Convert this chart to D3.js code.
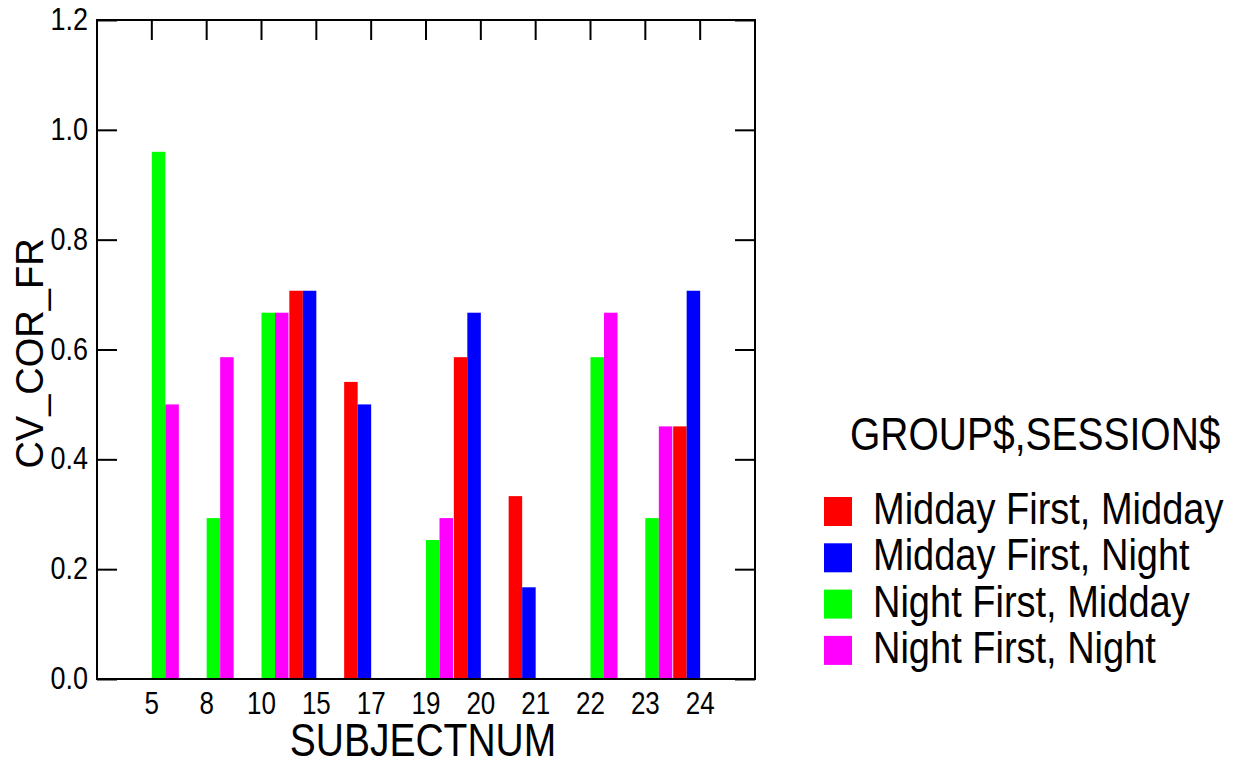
<!DOCTYPE html>
<html>
<head>
<meta charset="utf-8">
<script src="https://cdn.jsdelivr.net/npm/d3@7"></script>
<style>
  body { margin: 0; background: #fff; }
  text { font-family: "Liberation Sans", Arial, sans-serif; fill: #000; }
</style>
</head>
<body>
<div id="chart"></div>
<script>
// subjects on the x axis
const subjects = ["5", "8", "10", "15", "17", "19", "20", "21", "22", "23", "24"];
const groups = ["Midday First, Midday", "Midday First, Night", "Night First, Midday", "Night First, Night"];
const colors = ["#ff0000", "#0000ff", "#00ff00", "#ff00ff"];
const yTicks = [0, 0.2, 0.4, 0.6, 0.8, 1.0, 1.2];

// CV_COR_FR per group, same order as subjects (null = no bar)
const middayFirstMidday = [null, null, null, 0.707, 0.541, null, 0.586, 0.333, null, null, 0.46];
const middayFirstNight  = [null, null, null, 0.707, 0.5,   null, 0.667, 0.167, null, null, 0.707];
const nightFirstMidday  = [0.96, 0.293, 0.667, null, null, 0.253, null, null, 0.586, 0.293, null];
const nightFirstNight   = [0.5,  0.586, 0.667, null, null, 0.293, null, null, 0.667, 0.46,  null];

const series = [middayFirstMidday, middayFirstNight, nightFirstMidday, nightFirstNight];

let bars = [];
series.forEach((vals, gi) => {
    vals.forEach((v, si) => {
        if (v !== null) bars.push({ subject: subjects[si], group: groups[gi], value: v, color: colors[gi] });
    });
});

const width = 1237, height = 765;
const plotL = 97, plotR = 755, plotT = 20, plotB = 679;
const tickLen = 20;

const svg = d3.select("#chart").append("svg")
    .attr("width", width)
    .attr("height", height);

const pi = 0.015;
let x = d3.scaleBand().domain(subjects).range([plotL, plotR])
    .paddingInner(pi).paddingOuter((1 + pi) / 2);
let xg = d3.scaleBand().domain(groups).range([0, x.bandwidth()]);
let y = d3.scaleLinear().domain([0, 1.2]).range([plotB, plotT]);

// inward ticks on top, left and right
svg.append("g").attr("transform", `translate(0,${plotT})`)
    .call(d3.axisTop(x).tickSizeInner(-tickLen).tickSizeOuter(0).tickFormat(""))
    .call(g => g.select(".domain").remove());
svg.append("g").attr("transform", `translate(${plotL},0)`)
    .call(d3.axisLeft(y).tickValues(yTicks).tickSizeInner(-tickLen).tickSizeOuter(0).tickFormat(""))
    .call(g => g.select(".domain").remove());
svg.append("g").attr("transform", `translate(${plotR},0)`)
    .call(d3.axisRight(y).tickValues(yTicks).tickSizeInner(-tickLen).tickSizeOuter(0).tickFormat(""))
    .call(g => g.select(".domain").remove());
svg.selectAll(".tick line").attr("stroke", "#000").attr("stroke-width", 2);

// bars
svg.selectAll(".bar")
    .data(bars)
    .enter()
    .append("rect")
    .attr("class", "bar")
    .attr("x", d => x(d.subject) + xg(d.group))
    .attr("y", d => y(d.value))
    .attr("width", xg.bandwidth())
    .attr("height", d => y(0) - y(d.value))
    .attr("fill", d => d.color);

// frame
svg.append("rect")
    .attr("x", plotL).attr("y", plotT)
    .attr("width", plotR - plotL).attr("height", plotB - plotT)
    .attr("fill", "none").attr("stroke", "#000").attr("stroke-width", 2);

// tick labels
const stretch = "scale(1,1.18)";
svg.append("g").selectAll("text")
    .data(subjects)
    .enter()
    .append("text")
    .attr("transform", d => `translate(${x(d) + x.bandwidth() / 2},714) ${stretch}`)
    .attr("text-anchor", "middle")
    .style("font-size", "26px")
    .text(d => d);

svg.append("g").selectAll("text")
    .data(yTicks)
    .enter()
    .append("text")
    .attr("transform", d => `translate(88,${y(d) + 10}) ${stretch}`)
    .attr("text-anchor", "end")
    .style("font-size", "27px")
    .text(d => d3.format(".1f")(d));

// axis titles
svg.append("text")
    .attr("transform", `translate(${(plotL + plotR) / 2 - 3},756) ${stretch}`)
    .attr("text-anchor", "middle")
    .style("font-size", "39px")
    .text("SUBJECTNUM");

svg.append("text")
    .attr("transform", `translate(43,${(plotT + plotB) / 2 + 4}) rotate(-90)`)
    .attr("text-anchor", "middle")
    .style("font-size", "38px")
    .text("CV_COR_FR");

// legend
const legend = svg.append("g");
legend.append("text")
    .attr("transform", `translate(850,450) ${stretch}`)
    .style("font-size", "39px")
    .text("GROUP$,SESSION$");

let items = legend.selectAll(".item")
    .data(groups)
    .enter()
    .append("g")
    .attr("class", "item")
    .attr("transform", (d, i) => `translate(824,${497 + i * 46.3})`);
items.append("rect")
    .attr("width", 28).attr("height", 29)
    .attr("fill", (d, i) => colors[i]);
items.append("text")
    .attr("transform", `translate(49,27) ${stretch}`)
    .style("font-size", "38px")
    .text(d => d);
</script>
</body>
</html>
